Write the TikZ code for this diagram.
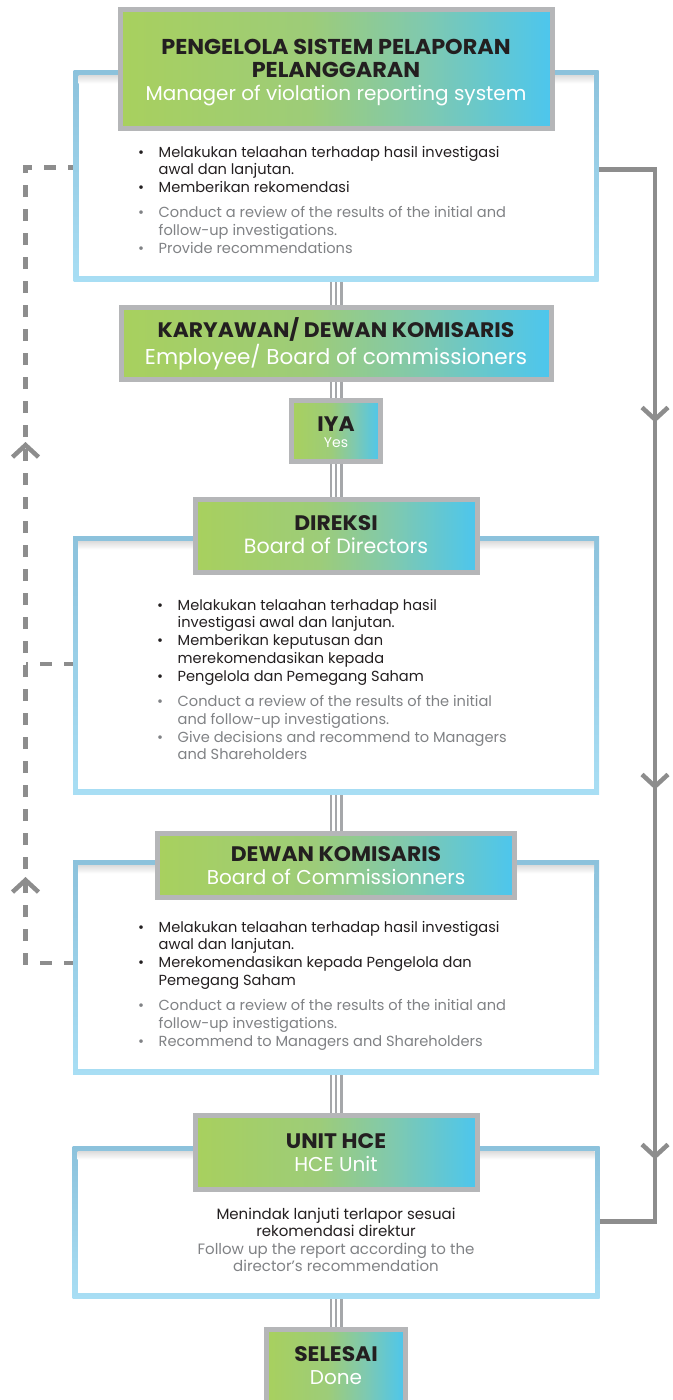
\documentclass[tikz,border=0pt]{standalone}
\usepackage{fontspec}
\setmainfont{Poppins}
\usetikzlibrary{arrows.meta,decorations.markings}
\definecolor{gA}{HTML}{A8D05E}
\definecolor{gB}{HTML}{9DCC79}
\definecolor{gC}{HTML}{80C9AE}
\definecolor{gD}{HTML}{4CC6EE}
\definecolor{boxgray}{HTML}{B5B6B8}
\definecolor{frameTop}{HTML}{8CC2DC}
\definecolor{frameBot}{HTML}{A8DEF4}
\definecolor{linegray}{HTML}{8D8D8D}
\definecolor{tgray}{HTML}{A5A7AA}
\definecolor{tblack}{HTML}{231F20}
\definecolor{txtgray}{HTML}{808285}
\pgfdeclarehorizontalshading{hgrad}{100bp}{color(0bp)=(gA); color(25bp)=(gA); color(47bp)=(gB); color(60bp)=(gC); color(75bp)=(gD); color(100bp)=(gD)}
\newcommand\bk[1]{\makebox[20.5pt][l]{\textbullet}#1}
\newcommand\bkc[1]{\hspace*{20.5pt}#1}
\newcommand\gr[1]{\textcolor{txtgray}{\makebox[20.5pt][l]{\textbullet}#1}}
\newcommand\grc[1]{\textcolor{txtgray}{\hspace*{20.5pt}#1}}
\newcommand\hd[2][21]{{\fontsize{#1}{23}\selectfont\bfseries\addfontfeature{FakeStretch=1.04}\color{tblack}#2}}
\newcommand\wh[2][20]{{\fontsize{#1}{23}\selectfont\color{white}#2}}
\begin{document}
\begin{tikzpicture}[x=1pt,y=-1pt,
  hbox/.style={draw=boxgray, line width=5pt, shading=hgrad, rectangle, inner sep=0pt},
  anchorbox/.style={inner sep=0pt, outer sep=0pt},
  triple/.style={draw=tgray, line width=13pt, postaction={draw=white, line width=7.8pt}, postaction={draw=tgray, line width=2.6pt}},
  sline/.style={draw=linegray, line width=4.5pt},
  dline/.style={draw=linegray, line width=4.5pt, dash pattern=on 12pt off 12pt},
  body/.style={inner sep=0pt, font=\fontsize{14.6}{17.8}\selectfont, text=tblack, anchor=base west},
  head/.style={inner sep=0pt, font=\fontsize{20}{23}\selectfont, anchor=base},
  barb/.tip={Straight Barb[length=12pt,width=26pt]}
]
\useasboundingbox (0,0) rectangle (672,1400);
\clip (0,0) rectangle (672,1400);
% coordinates of the side lines
\coordinate (rt) at (655,169.5);
\coordinate (rb) at (655,1221.5);
\coordinate (lt) at (25.5,167.5);
\coordinate (lm) at (25.5,664);
\coordinate (lb) at (25.5,963);
% named boxes (shapes drawn below)
\path
  (336,175.5) node[anchorbox, minimum width=520pt, minimum height=206pt] (f1) {}
  (336,665) node[anchorbox, minimum width=521pt, minimum height=253pt] (f2) {}
  (336,967) node[anchorbox, minimum width=521pt, minimum height=209pt] (f3) {}
  (336,1222) node[anchorbox, minimum width=522pt, minimum height=147pt] (f4) {}
  (336,69) node[anchorbox, minimum width=432pt, minimum height=119pt] (b1) {}
  (336,343.5) node[anchorbox, minimum width=430pt, minimum height=72pt] (b2) {}
  (336,431) node[anchorbox, minimum width=89pt, minimum height=61pt] (iya) {}
  (336,536) node[anchorbox, minimum width=282pt, minimum height=73pt] (dir) {}
  (336,865.5) node[anchorbox, minimum width=357pt, minimum height=64pt] (dew) {}
  (336,1152.5) node[anchorbox, minimum width=282pt, minimum height=74pt] (hce) {}
  (336,1368.5) node[anchorbox, minimum width=139pt, minimum height=78pt] (sel) {};
% triple connectors
\draw[triple] (f1.south) -- (b2.north);
\draw[triple] (b2.south) -- (iya.north);
\draw[triple] (iya.south) -- (dir.north);
\draw[triple] (f2.south) -- (dew.north);
\draw[triple] (f3.south) -- (hce.north);
\draw[triple] (f4.south) -- (sel.north);
% right solid return line
\draw[sline, decoration={markings,
    mark=at position 312pt with {\arrow{barb}},
    mark=at position 679pt with {\arrow{barb}},
    mark=at position 1049pt with {\arrow{barb}}}, postaction={decorate}]
  (f1.east |- rt) -- (rt) -- (rb) -- (f4.east |- rb);
% left dashed line
\draw[dline, decoration={markings,
    mark=at position 136pt with {\arrow{barb}},
    mark=at position 571pt with {\arrow{barb}}}, postaction={decorate}]
  (f3.west |- lb) -- (lb) -- (lt) -- (f1.west |- lt);
\draw[dline] (f2.west |- lm) -- (lm);
% frames: light blue border, white inside with a soft top shadow
\foreach \f in {f1,f2,f3,f4}{
  \shade[top color=frameTop, bottom color=frameBot]
    ([xshift=-2.5pt,yshift=2.5pt]\f.north west) rectangle ([xshift=2.5pt,yshift=-2.5pt]\f.south east);
  \fill[white] ([xshift=2.5pt,yshift=-2.5pt]\f.north west) rectangle ([xshift=-2.5pt,yshift=2.5pt]\f.south east);
  \shade[top color=black!14, bottom color=white]
    ([xshift=2.5pt,yshift=-2.5pt]\f.north west) rectangle ([xshift=-2.5pt,yshift=-11pt]\f.north east);
}
% header boxes
\foreach \b in {b1,b2,iya,dir,dew,hce,sel}{
  \draw[hbox] (\b.north west) rectangle (\b.south east);
}
% header texts
\node[head] (t1) at (336,54) {\begin{tabular}[t]{@{}c@{}}\hd[21.5]{PENGELOLA SISTEM PELAPORAN}\\\hd[21.5]{PELANGGARAN}\\\wh{Manager of violation reporting system}\end{tabular}};
\node[head] (t2) at (336,337.7) {\begin{tabular}[t]{@{}c@{}}\hd{KARYAWAN/ DEWAN KOMISARIS}\\\wh[21.5]{Employee/ Board of commissioners}\end{tabular}};
\node[head, font=\fontsize{20}{16.3}\selectfont] (t3) at (336,431) {\begin{tabular}[t]{@{}c@{}}\hd{IYA}\\{\fontsize{14}{16.3}\selectfont\color{white}Yes}\end{tabular}};
\node[head] (t4) at (336,530.7) {\begin{tabular}[t]{@{}c@{}}\hd{DIREKSI}\\\wh[20.6]{Board of Directors}\end{tabular}};
\node[head] (t5) at (336,861.7) {\begin{tabular}[t]{@{}c@{}}\hd{DEWAN KOMISARIS}\\\wh{Board of Commissionners}\end{tabular}};
\node[head] (t6) at (336,1148.3) {\begin{tabular}[t]{@{}c@{}}\hd{UNIT HCE}\\\wh{HCE Unit}\end{tabular}};
\node[head] (t7) at (336,1361.7) {\begin{tabular}[t]{@{}c@{}}\hd{SELESAI}\\\wh{Done}\end{tabular}};
% body texts
\node[body] (x1) at (138,157) {\begin{tabular}[t]{@{}l@{}}
\bk{Melakukan telaahan terhadap hasil investigasi}\\
\bkc{awal dan lanjutan.}\\
\bk{Memberikan rekomendasi}\\[7.5pt]
\gr{Conduct a review of the results of the initial and}\\
\grc{follow-up investigations.}\\
\gr{Provide recommendations}
\end{tabular}};
\node[body] (x2) at (157,610) {\begin{tabular}[t]{@{}l@{}}
\bk{Melakukan telaahan terhadap hasil}\\
\bkc{investigasi awal dan lanjutan.}\\
\bk{Memberikan keputusan dan}\\
\bkc{merekomendasikan kepada}\\
\bk{Pengelola dan Pemegang Saham}\\[7.5pt]
\gr{Conduct a review of the results of the initial}\\
\grc{and follow-up investigations.}\\
\gr{Give decisions and recommend to Managers}\\
\grc{and Shareholders}
\end{tabular}};
\node[body] (x3) at (138,932) {\begin{tabular}[t]{@{}l@{}}
\bk{Melakukan telaahan terhadap hasil investigasi}\\
\bkc{awal dan lanjutan.}\\
\bk{Merekomendasikan kepada Pengelola dan}\\
\bkc{Pemegang Saham}\\[7.5pt]
\gr{Conduct a review of the results of the initial and}\\
\grc{follow-up investigations.}\\
\gr{Recommend to Managers and Shareholders}
\end{tabular}};
\node[body, anchor=base, font=\fontsize{15}{17.6}\selectfont] (x4) at (336,1219) {\begin{tabular}[t]{@{}c@{}}
Menindak lanjuti terlapor sesuai\\
rekomendasi direktur\\
\textcolor{txtgray}{Follow up the report according to the}\\
\textcolor{txtgray}{director’s recommendation}
\end{tabular}};
\end{tikzpicture}
\end{document}
